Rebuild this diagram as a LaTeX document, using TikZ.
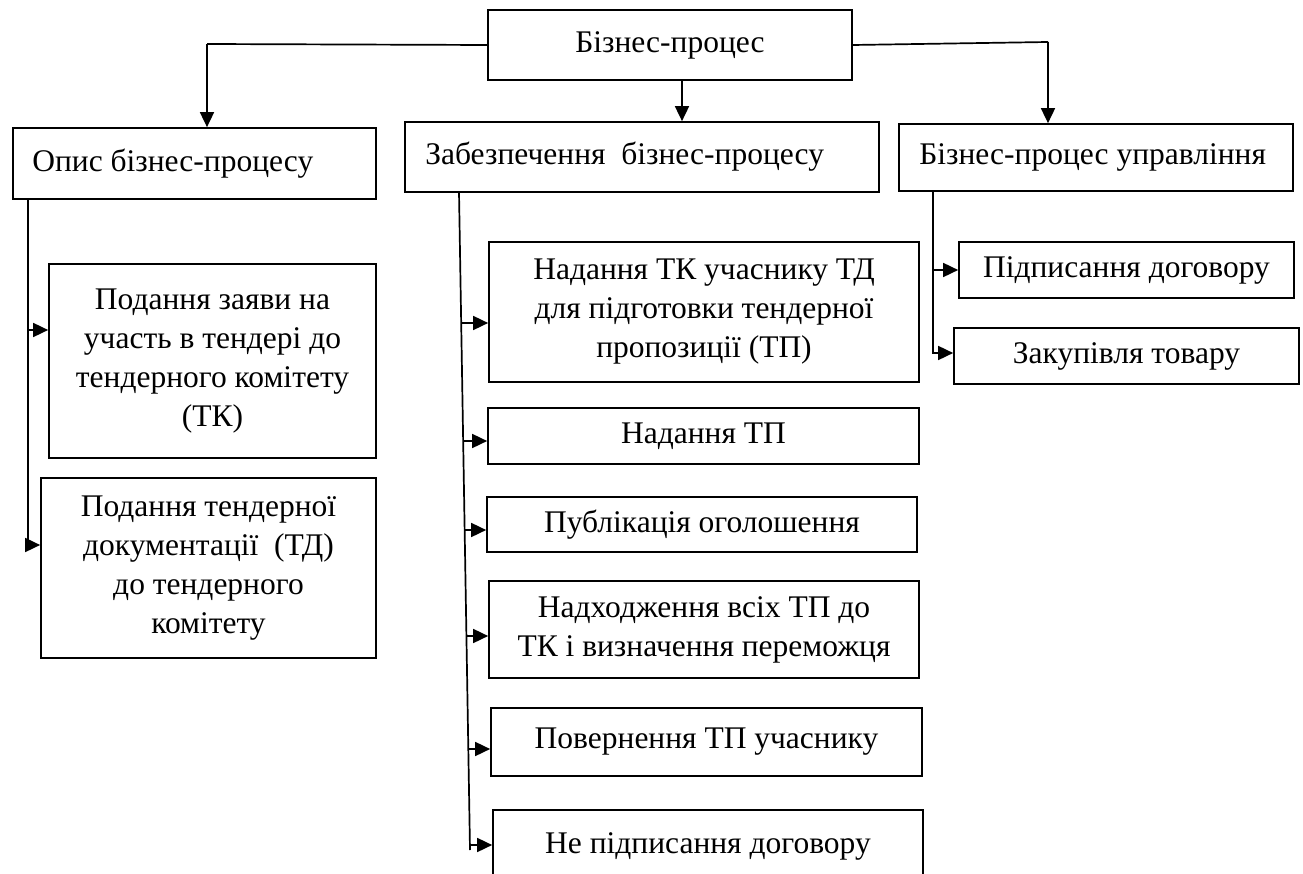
\documentclass[tikz,border=0pt]{standalone}
\usepackage{fontspec}
\setmainfont{Liberation Serif}
\usetikzlibrary{arrows.meta}
\begin{document}
\begin{tikzpicture}[x=1pt,y=-1pt,
  txt/.style={inner sep=0pt, align=center, font=\fontsize{31.5}{39}\selectfont},
  box/.style={txt, draw, line width=1.7pt},
  ln/.style={line width=1.7pt},
  arr/.style={line width=1.7pt, -{Triangle[length=15pt,width=14pt]}}]
\useasboundingbox (0,0) rectangle (1303,874);

% top level
\node[box, minimum width=364pt, minimum height=70pt] (top) at (670,45) {Бізнес-процес};

\node[box, minimum width=363pt, minimum height=71pt] (opys) at (194.5,163.5) {};
\node[txt, anchor=west] (opysT) at ([xshift=20pt]opys.west) {Опис бізнес-процесу};

\node[box, minimum width=474pt, minimum height=70pt] (zab) at (642,157) {};
\node[txt, anchor=west] (zabT) at ([xshift=21pt]zab.west) {Забезпечення\ \ бізнес-процесу};

\node[box, minimum width=394pt, minimum height=67pt] (upr) at (1096,157.5) {};
\node[txt, anchor=west] (uprT) at ([xshift=21pt]upr.west) {Бізнес-процес управління};

% left column
\node[box, minimum width=327pt, minimum height=194pt] (l1) at (212.5,361)
  {Подання заяви на\\участь в тендері до\\тендерного комітету\\(ТК)};
\node[box, minimum width=335pt, minimum height=180pt] (l2) at (208.5,568)
  {Подання тендерної\\документації\ \ (ТД)\\до тендерного\\комітету};

% middle column
\node[box, minimum width=430pt, minimum height=140pt] (m1) at (704,312)
  {Надання ТК учаснику ТД\\для підготовки тендерної\\пропозиції (ТП)};
\node[box, minimum width=431pt, minimum height=56pt] (m2) at (703.5,436) {Надання ТП};
\node[box, minimum width=430pt, minimum height=55pt] (m3) at (702,524.5) {Публікація оголошення};
\node[box, minimum width=430pt, minimum height=97pt] (m4) at (704,629.5)
  {Надходження всіх ТП до\\ТК і визначення переможця};
\node[box, minimum width=431pt, minimum height=68pt] (m5) at (706.5,742) {Повернення ТП учаснику};
\node[box, minimum width=430pt, minimum height=72pt] (m6) at (708,846) {Не підписання договору};

% right column
\node[box, minimum width=335pt, minimum height=56pt] (r1) at (1126.5,270) {Підписання договору};
\node[box, minimum width=345pt, minimum height=56pt] (r2) at (1126.5,356) {Закупівля товару};

% connectors from the top box
\coordinate (tl) at (207,44);
\draw[ln] (top.west) -- (tl);
\draw[arr] (tl) -- (tl |- opys.north);
\draw[arr] ([xshift=12pt]top.south) -- ([xshift=12pt]top.south |- zab.north);
\coordinate (tr) at (1048,42);
\draw[ln] (top.east) -- (tr);
\draw[arr] (tr) -- (tr |- upr.north);

% left spine
\coordinate (ls) at (28,547);
\draw[ln] (opys.south -| ls) -- (ls);
\coordinate (la1) at (28,330);
\coordinate (la2) at (28,545);
\draw[arr] (la1) -- (la1 -| l1.west);
\draw[arr] (la2) -- (la2 -| l2.west);

% middle spine
\coordinate (ms0) at (459,192);
\coordinate (ms1) at (470,850);
\draw[ln] (ms0) -- (ms1);
\coordinate (ma1) at (461,323);
\coordinate (ma2) at (463,441);
\coordinate (ma3) at (465,530);
\coordinate (ma4) at (466.5,636);
\coordinate (ma5) at (468.3,749);
\coordinate (ma6) at (470,845);
\draw[arr] (ma1) -- (ma1 -| m1.west);
\draw[arr] (ma2) -- (ma2 -| m2.west);
\draw[arr] (ma3) -- (ma3 -| m3.west);
\draw[arr] (ma4) -- (ma4 -| m4.west);
\draw[arr] (ma5) -- (ma5 -| m5.west);
\draw[arr] (ma6) -- (ma6 -| m6.west);

% right spine
\coordinate (rs) at (933,354);
\draw[ln] (upr.south -| rs) -- (rs);
\coordinate (ra1) at (933,270);
\coordinate (ra2) at (933,353);
\draw[arr] (ra1) -- (ra1 -| r1.west);
\draw[arr] (ra2) -- (ra2 -| r2.west);
\end{tikzpicture}
\end{document}
